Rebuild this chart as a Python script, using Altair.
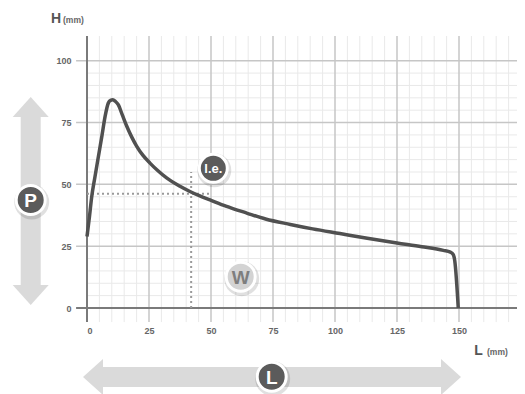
import altair as alt
import pandas as pd

# ---- data ----
curve_x = [0, 1.0, 1.9, 3.2, 4.6, 6.0, 7.3, 8.6, 9.5, 10.4, 11.4, 12.6, 14.2, 16, 18, 20,
           22.5, 25.4, 28.5, 32.1, 37.5, 41.5, 45.5, 49.6, 56, 64.4, 72, 82, 91, 102,
           113, 125, 135, 143.7, 146.5, 147.7, 148.3, 149.7]
curve_y = [28.9, 37, 45, 53, 61.3, 69.5, 77.5, 82.9, 84.0, 84.2, 83.6, 82.2, 78.2, 73.6, 69.2,
           65.5, 61.8, 58.6, 55.6, 52.6, 49.2, 47.1, 45.3, 43.7, 41.2, 38.4, 36.0, 33.8, 32.0,
           30.1, 28.2, 26.3, 24.8, 23.3, 22.6, 21.6, 19, 0]

x_ticks = [0, 25, 50, 75, 100, 125, 150]
y_ticks = [0, 25, 50, 75, 100]
x_major = [25, 50, 75, 100, 125, 150, 175]
x_minor = [v for v in range(5, 175, 5) if v % 25 != 0]
y_major = [25, 50, 75, 100]
y_minor = [v for v in range(5, 100, 5) if v % 25 != 0]

le_x, le_y = 42, 46.2          # l.e. guide point
le_xline_end, le_yline_end = 50, 55

PPX = 2.48
W, H = 430, 272
XD = [0, W / PPX]
YD = [0, 110]

xs = alt.Scale(domain=XD, nice=False, zero=False)
ys = alt.Scale(domain=YD, nice=False, zero=False)

curve_df = pd.DataFrame({"L": curve_x, "H": curve_y})

minor_v = alt.Chart(pd.DataFrame({"v": x_minor})).mark_rule(color="#e9e9e9", strokeWidth=1).encode(
    x=alt.X("v:Q", scale=xs), y=alt.Y(datum=-5.7, scale=ys), y2=alt.datum(110))
minor_h = alt.Chart(pd.DataFrame({"v": y_minor})).mark_rule(color="#e9e9e9", strokeWidth=1).encode(
    y=alt.Y("v:Q", scale=ys), x=alt.X(datum=0, scale=xs), x2=alt.value(440))
major_v = alt.Chart(pd.DataFrame({"v": x_major})).mark_rule(color="#c6c6c6", strokeWidth=1.5).encode(
    x=alt.X("v:Q", scale=xs), y=alt.Y(datum=-5.7, scale=ys), y2=alt.datum(110))
major_h = alt.Chart(pd.DataFrame({"v": y_major})).mark_rule(color="#c6c6c6", strokeWidth=1.5).encode(
    y=alt.Y("v:Q", scale=ys), x=alt.X(datum=-4.4, scale=xs), x2=alt.value(440))
axis_x = alt.Chart(pd.DataFrame({"v": [0]})).mark_rule(color="#7a7a7a", strokeWidth=2).encode(
    y=alt.Y("v:Q", scale=ys), x=alt.X(datum=-4.4, scale=xs), x2=alt.value(440))
axis_y = alt.Chart(pd.DataFrame({"v": [0]})).mark_rule(color="#7a7a7a", strokeWidth=2).encode(
    x=alt.X("v:Q", scale=xs), y=alt.Y(datum=-5.7, scale=ys), y2=alt.datum(110))

dot_h = alt.Chart(pd.DataFrame({"a": [0], "b": [le_xline_end], "y": [le_y]})).mark_rule(
    color="#9a9a9a", strokeWidth=2, strokeDash=[2, 3]).encode(
    x=alt.X("a:Q", scale=xs), x2="b:Q", y=alt.Y("y:Q", scale=ys))
dot_v = alt.Chart(pd.DataFrame({"x": [le_x], "a": [0], "b": [le_yline_end]})).mark_rule(
    color="#9a9a9a", strokeWidth=2, strokeDash=[2, 3]).encode(
    x=alt.X("x:Q", scale=xs), y=alt.Y("a:Q", scale=ys), y2="b:Q")

curve = alt.Chart(curve_df).mark_line(color="#505050", strokeWidth=3.5, interpolate="monotone").encode(
    x=alt.X("L:Q", scale=xs, axis=alt.Axis(values=x_ticks, grid=False, ticks=False, domain=False,
                                            labelPadding=18, labelFontSize=9, labelFont="Liberation Sans",
                                            labelFontWeight="bold", labelColor="#666", title=None)),
    y=alt.Y("H:Q", scale=ys, axis=alt.Axis(values=y_ticks, grid=False, ticks=False, domain=False,
                                            labelPadding=16, labelFontSize=9, labelFont="Liberation Sans",
                                            labelFontWeight="bold", labelColor="#666", title=None)),
)

one = pd.DataFrame({"k": [0]})
ARROW = "#dadada"

def rule(x, y, x2=None, y2=None, w=20, color=ARROW):
    enc = dict(x=alt.value(x), y=alt.value(y))
    if x2 is not None:
        enc["x2"] = alt.value(x2)
    if y2 is not None:
        enc["y2"] = alt.value(y2)
    return alt.Chart(one).mark_rule(color=color, strokeWidth=w).encode(**enc)

TRI_UP = "M0,-0.556L1,0.556L-1,0.556Z"
TRI_DOWN = "M0,0.556L1,-0.556L-1,-0.556Z"
TRI_LEFT = "M-0.556,0L0.556,-1L0.556,1Z"
TRI_RIGHT = "M0.556,0L-0.556,-1L-0.556,1Z"

def head(x, y, shape):
    return alt.Chart(one).mark_point(shape=shape, filled=True, color=ARROW, opacity=1, size=1296).encode(
        x=alt.value(x), y=alt.value(y))

# vertical P arrow
p_shaft = rule(-56.3, 81, y2=249)
p_up = head(-56.3, 71, TRI_UP)
p_down = head(-56.3, 259, TRI_DOWN)
# horizontal L arrow
l_shaft = rule(16, 341, x2=355)
l_left = head(6, 341, TRI_LEFT)
l_right = head(364, 341, TRI_RIGHT)

def badge(x, y, label, fill="#5b5b5b", tcolor="white", size=18, d=29):
    shadow = alt.Chart(one).mark_circle(color="#000", opacity=0.12, size=(d + 6) ** 2).encode(
        x=alt.value(x + 1), y=alt.value(y + 2))
    c = alt.Chart(one).mark_point(shape="circle", filled=True, fill=fill, stroke="white",
                                  strokeWidth=3, opacity=1, size=d * d).encode(
        x=alt.value(x), y=alt.value(y))
    t = alt.Chart(one).mark_text(text=label, color=tcolor, fontSize=size, fontWeight="bold",
                                 font="Liberation Sans", align="center", baseline="middle", dy=1).encode(
        x=alt.value(x), y=alt.value(y))
    return [shadow, c, t]

badges = (badge(126.3, 132.3, "l.e.", size=13, d=28)
          + badge(153.7, 240.7, "W", fill="#d3d3d3", tcolor="#7e7e7e", size=19)
          + badge(-56.3, 164, "P", size=19)
          + badge(184.7, 340.7, "L", size=19))

def txt(x, y, s, size, align="left", weight="bold", color="#555"):
    return alt.Chart(one).mark_text(text=s, fontSize=size, fontWeight=weight, color=color,
                                    font="Liberation Sans", align=align, baseline="middle").encode(
        x=alt.value(x), y=alt.value(y))

titles = [
    txt(-31, -17, "H", 14, align="center", color="#555"),
    txt(-24, -16, "(mm)", 8.5, color="#666"),
    txt(391.5, 315, "L", 14, align="center", color="#555"),
    txt(400, 316, "(mm)", 8.5, color="#666"),
]

chart = alt.layer(
    minor_v, minor_h, major_v, major_h, axis_x, axis_y, dot_h, dot_v, curve,
    p_shaft, p_up, p_down, l_shaft, l_left, l_right, *badges, *titles
).properties(
    width=W, height=H,
    padding={"left": 79, "top": 28, "right": 0, "bottom": 86},
    autosize=alt.AutoSizeParams(type="none"),
    background="white",
).configure_view(stroke=None)

chart.save("out.html", embed_options={"renderer": "svg", "actions": False})
